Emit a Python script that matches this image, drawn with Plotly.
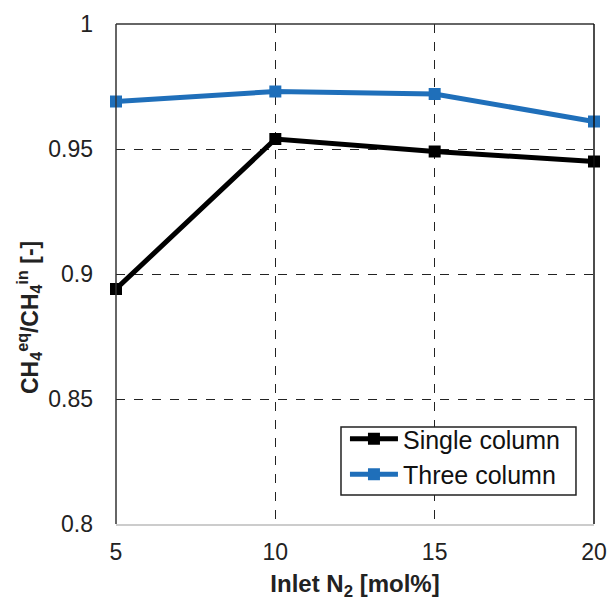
import plotly.graph_objects as go

inlet_n2 = [5, 10, 15, 20]
single_column = [0.894, 0.954, 0.949, 0.945]
three_column = [0.969, 0.973, 0.972, 0.961]

fig = go.Figure()
fig.add_trace(go.Scatter(x=inlet_n2, y=single_column, mode="lines+markers", name="Single column",
                         line=dict(color="#000000", width=5),
                         marker=dict(symbol="square", size=12, color="#000000"),
                         cliponaxis=False))
fig.add_trace(go.Scatter(x=inlet_n2, y=three_column, mode="lines+markers", name="Three column",
                         line=dict(color="#1F6FBA", width=5),
                         marker=dict(symbol="square", size=12, color="#1F6FBA"),
                         cliponaxis=False))

fig.update_layout(
    width=611, height=601,
    margin=dict(l=116, r=17, t=24, b=77, autoexpand=False),
    paper_bgcolor="white", plot_bgcolor="white",
    font=dict(family="Liberation Sans, Arial", size=23, color="#222"),
    showlegend=True,
    legend=dict(x=0.479, y=0.216, xanchor="left", yanchor="top",
                bgcolor="rgba(0,0,0,0)", borderwidth=0,
                font=dict(size=25, color="#111"), tracegroupgap=0,
                itemwidth=48),
)
fig.update_xaxes(range=[5, 20], tickvals=[5, 10, 15, 20], showgrid=True,
                 gridcolor="#222", griddash="dash", gridwidth=1,
                 showline=True, linecolor="#cccccc", linewidth=1.5,
                 mirror=False, ticks="", zeroline=False, ticklen=0,
                 ticklabelstandoff=7, automargin=False,
                 title=dict(text="<b>Inlet N<sub>2</sub> [mol%]</b>", font=dict(size=24, color="#222"), standoff=14))
fig.update_yaxes(range=[0.8, 1.0], tickvals=[0.8, 0.85, 0.9, 0.95, 1.0],
                 ticktext=["0.8", "0.85", "0.9", "0.95", "1"], showgrid=True,
                 gridcolor="#222", griddash="dash", gridwidth=1,
                 showline=False, zeroline=False, ticks="",
                 ticklabelstandoff=22, automargin=False)

# y-axis title (placed like the original, slightly below the plot middle)
fig.add_annotation(text="<b>CH<sub>4</sub><sup>eq</sup>/CH<sub>4</sub><sup>in</sup> [-]</b>",
                   xref="paper", yref="paper", x=-0.182, y=0.412, xanchor="center", yanchor="middle",
                   textangle=-90, showarrow=False, font=dict(size=23, color="#222"))

# plot frame: left, top, right dark; bottom light grey (via axis line)
fig.add_shape(type="line", xref="paper", yref="paper", x0=0, x1=0, y0=0, y1=1,
              line=dict(color="#333", width=1.5))
fig.add_shape(type="line", xref="paper", yref="paper", x0=0, x1=1, y0=1, y1=1,
              line=dict(color="#333", width=1.5))
fig.add_shape(type="line", xref="paper", yref="paper", x0=1, x1=1, y0=0, y1=1,
              line=dict(color="#111", width=1.5))
# legend box
fig.add_shape(type="rect", xref="paper", yref="paper", x0=0.4707, x1=0.9623, y0=0.058, y1=0.194,
              line=dict(color="#222", width=1.5), fillcolor="white", layer="above")

fig.write_html("out.html", config={"displayModeBar": False},
               post_script="document.body.style.margin='0px';document.body.style.overflow='hidden';")
